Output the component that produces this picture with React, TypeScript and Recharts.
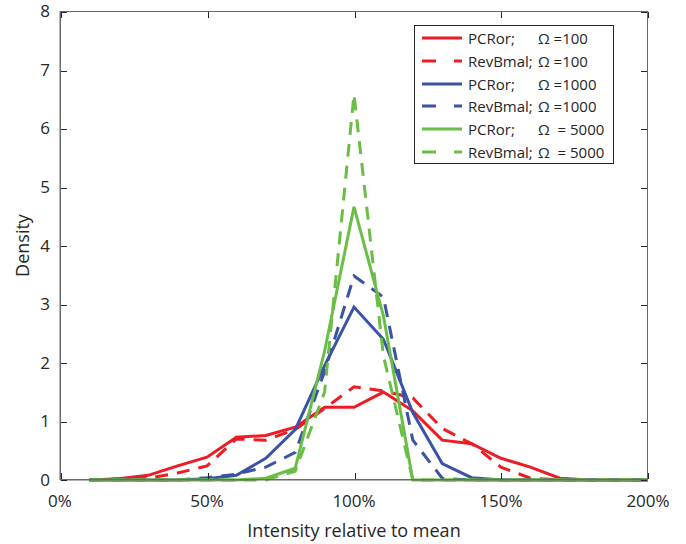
import React from 'react';
import { LineChart, Line, XAxis, YAxis } from 'recharts';

// intensity bins (% of mean) and density per series
const intensityPct = [10, 20, 30, 40, 50, 60, 70, 80, 90, 100, 110, 120, 130, 140, 150, 160, 170, 180, 190, 200];

const pcrOmega100 = [0, 0.02, 0.08, 0.24, 0.39, 0.73, 0.76, 0.9, 1.24, 1.24, 1.5, 1.18, 0.68, 0.62, 0.37, 0.22, 0.03, 0, 0, 0];
const revOmega100 = [0, 0.02, 0.03, 0.12, 0.24, 0.7, 0.68, 0.86, 1.22, 1.59, 1.52, 1.4, 0.88, 0.62, 0.22, 0.03, 0, 0, 0, 0];
const pcrOmega1000 = [0, 0, 0, 0, 0.02, 0.08, 0.37, 0.86, 1.95, 2.95, 2.4, 1.15, 0.28, 0.04, 0, 0, 0, 0, 0, 0];
const revOmega1000 = [0, 0, 0, 0, 0.04, 0.1, 0.22, 0.47, 1.85, 3.48, 3.12, 0.68, 0.03, 0, 0, 0, 0, 0, 0, 0];
const pcrOmega5000 = [0, 0, 0, 0, 0, 0, 0.03, 0.2, 2.2, 4.66, 2.8, 0, 0, 0, 0, 0, 0, 0, 0, 0];
const revOmega5000 = [0, 0, 0, 0, 0, 0, 0, 0.15, 1.5, 6.58, 2.12, 0, 0, 0, 0, 0, 0, 0, 0, 0];

const xTicks = [0, 50, 100, 150, 200];
const yTicks = [0, 1, 2, 3, 4, 5, 6, 7, 8];
const X_MAX = 200;
const Y_MAX = 8;

const rows = intensityPct.map((x, i) => ({
  x,
  pcr100: pcrOmega100[i],
  rev100: revOmega100[i],
  pcr1000: pcrOmega1000[i],
  rev1000: revOmega1000[i],
  pcr5000: pcrOmega5000[i],
  rev5000: revOmega5000[i],
}));

const RED = '#ed1c24';
const BLUE = '#3a53a4';
const GREEN = '#6abd45';
const AXIS = '#6a6a6a';
const TEXT = '#262626';

const W = 686;
const H = 544;
const MARGIN = { top: 11, right: 38, bottom: 4, left: 20 };
const Y_AXIS_W = 40;
const X_AXIS_H = 60;
const PLOT_X = MARGIN.left + Y_AXIS_W;
const PLOT_Y = MARGIN.top;
const PLOT_W = W - MARGIN.right - PLOT_X;
const PLOT_H = H - MARGIN.bottom - X_AXIS_H - PLOT_Y;

const series = [
  { key: 'pcr100', color: RED, dashed: false, method: 'PCRor;', omega: 'Ω =100' },
  { key: 'rev100', color: RED, dashed: true, method: 'RevBmal;', omega: 'Ω =100' },
  { key: 'pcr1000', color: BLUE, dashed: false, method: 'PCRor;', omega: 'Ω =1000' },
  { key: 'rev1000', color: BLUE, dashed: true, method: 'RevBmal;', omega: 'Ω =1000' },
  { key: 'pcr5000', color: GREEN, dashed: false, method: 'PCRor;', omega: 'Ω  = 5000' },
  { key: 'rev5000', color: GREEN, dashed: true, method: 'RevBmal;', omega: 'Ω  = 5000' },
];

// matlab-style box around the axes, ticks pointing inward on every side
const Frame = () => {
  const tick = 6;
  const mark = (style: React.CSSProperties, key: string) => (
    <div key={key} style={{ position: 'absolute', background: TEXT, ...style }} />
  );
  return (
    <div
      style={{
        position: 'absolute',
        left: PLOT_X,
        top: PLOT_Y,
        width: PLOT_W,
        height: PLOT_H,
        boxSizing: 'border-box',
        border: `1px solid ${AXIS}`,
        pointerEvents: 'none',
      }}
    >
      {xTicks.map((t) => {
        const left = Math.round((t / X_MAX) * (PLOT_W - 1));
        return [
          mark({ left, top: 0, width: 1, height: tick }, `xt${t}`),
          mark({ left, bottom: 0, width: 1, height: tick }, `xb${t}`),
        ];
      })}
      {yTicks.map((t) => {
        const top = Math.round((1 - t / Y_MAX) * (PLOT_H - 1));
        return [
          mark({ left: 0, top, width: tick, height: 1 }, `yl${t}`),
          mark({ right: 0, top, width: tick, height: 1 }, `yr${t}`),
        ];
      })}
    </div>
  );
};

const LegendBox = () => (
  <div
    style={{
      position: 'absolute',
      left: 414,
      top: 25,
      width: 200,
      height: 139,
      boxSizing: 'border-box',
      border: `1px solid ${TEXT}`,
      background: '#fff',
      paddingTop: 1,
      fontSize: 15,
      color: TEXT,
    }}
  >
    {series.map((s) => (
      <div key={s.key} style={{ position: 'relative', height: 22.8 }}>
        <svg width={40} height={22} style={{ position: 'absolute', left: 7, top: 0 }}>
          <line x1={0} x2={40} y1={11} y2={11} stroke={s.color} strokeWidth={3} strokeDasharray={s.dashed ? '14 18' : undefined} />
        </svg>
        <span style={{ position: 'absolute', left: 53, top: 0, lineHeight: '22px' }}>{s.method}</span>
        <span style={{ position: 'absolute', left: 123, top: 0, lineHeight: '22px', whiteSpace: 'pre' }}>{s.omega}</span>
      </div>
    ))}
  </div>
);

export default function App() {
  return (
    <div style={{ position: 'absolute', left: 0, top: 0, width: W, height: H, fontFamily: '"Open Sans", sans-serif', background: '#fff' }}>
      <LineChart width={W} height={H} data={rows} margin={MARGIN}>
        <XAxis
          dataKey="x"
          type="number"
          domain={[0, X_MAX]}
          ticks={xTicks}
          tickFormatter={(v) => `${v}%`}
          height={X_AXIS_H}
          stroke={AXIS}
          tickLine={false}
          tickSize={0}
          tickMargin={15}
          tick={{ fill: TEXT, fontSize: 17 }}
          label={{ value: 'Intensity relative to mean', position: 'insideBottom', offset: 3, fill: TEXT, fontSize: 18 }}
        />
        <YAxis
          type="number"
          domain={[0, Y_MAX]}
          ticks={yTicks}
          width={Y_AXIS_W}
          stroke={AXIS}
          tickLine={false}
          tickSize={0}
          tickMargin={10}
          tick={{ fill: TEXT, fontSize: 17 }}
          label={{ value: 'Density', angle: -90, position: 'insideLeft', offset: 3, fill: TEXT, fontSize: 18, style: { textAnchor: 'middle' } }}
        />
        {series.map((s) => (
          <Line
            key={s.key}
            type="linear"
            dataKey={s.key}
            stroke={s.color}
            strokeWidth={3}
            strokeDasharray={s.dashed ? '13 9' : undefined}
            dot={false}
            isAnimationActive={false}
          />
        ))}
      </LineChart>
      <Frame />
      <LegendBox />
    </div>
  );
}
